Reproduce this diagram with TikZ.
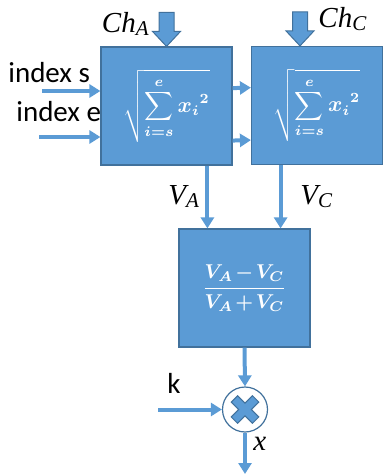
\documentclass[tikz,border=0pt]{standalone}
\usepackage{fontspec}
\setmainfont{Carlito}
\newfontfamily\tnr{Liberation Serif}
\usepackage{bm}
\usetikzlibrary{positioning,arrows.meta,calc}
\definecolor{boxblue}{RGB}{91,155,213}
\definecolor{edgeblue}{RGB}{65,113,156}

\begin{document}
\begin{tikzpicture}[x=0.5pt,y=-0.5pt,
  blockbox/.style={draw=edgeblue,fill=boxblue,line width=0.6pt,minimum width=65.5pt,minimum height=59pt,text=white,inner sep=0pt},
  sig/.style={draw=boxblue,line width=2pt,-{Triangle[width=6.5pt,length=5.5pt]}},
  lbl/.style={font=\fontsize{14.5}{16}\selectfont,inner sep=0pt},
  varlbl/.style={font=\fontsize{14.5}{16}\selectfont\tnr\itshape,inner sep=0pt},
  chan/.style={fill=boxblue,draw=edgeblue,line width=0.5pt}]
\useasboundingbox (0,0) rectangle (382,474);
% Blocks
\node[blockbox] (normA) at (166.5,106) {\fontsize{10.5}{12}\selectfont$\displaystyle\bm{\sqrt{\sum_{i=s}^{e} {x_i}^{2}}}$};
\node[blockbox] (normC) at (317,105.5) {\fontsize{10.5}{12}\selectfont$\displaystyle\bm{\sqrt{\sum_{i=s}^{e} {x_i}^{2}}}$};
\node[blockbox] (ratio) at (244.5,288) {\fontsize{10}{12}\selectfont\medmuskip=2mu$\displaystyle\bm{\frac{V_A-V_C}{V_A+V_C}}$};
\node[circle,draw=edgeblue,fill=white,line width=0.6pt,minimum size=22.5pt,inner sep=0pt] (mult) at (245,409.5) {};
\begin{scope}[shift={(mult.center)},rotate=45]
\filldraw[chan] (-15,-4.5) -- (-4.5,-4.5) -- (-4.5,-15) -- (4.5,-15) -- (4.5,-4.5) -- (15,-4.5)
  -- (15,4.5) -- (4.5,4.5) -- (4.5,15) -- (-4.5,15) -- (-4.5,4.5) -- (-15,4.5) -- cycle;
\end{scope}
% Channel arrows
\coordinate (chA) at (normA.north);
\coordinate (chC) at ([xshift=-8.5pt]normC.north);
\foreach \c in {chA,chC}
  \filldraw[chan] (\c) ++(-7.5,-34) -- ++(15,0) -- ++(0,19) -- ++(6.5,0) -- (\c) -- ++(-14,-15) -- ++(6.5,0) -- cycle;
\node[varlbl,anchor=base east] (chALbl) at (149,33) {Ch\raisebox{-1.5pt}{\fontsize{10.5}{10}\selectfont A}};
\node[varlbl,anchor=base west] (chCLbl) at (318,28) {Ch\raisebox{-1.5pt}{\fontsize{10.5}{10}\selectfont C}};
% Index inputs
\coordinate (sIn) at (42,91);
\coordinate (eIn) at (39,137);
\draw[sig] (sIn) -- (sIn -| normA.west);
\draw[sig] (eIn) -- (eIn -| normA.west);
\node[lbl,anchor=base west] (sLbl) at (8,83) {index s};
\node[lbl,anchor=base west] (eLbl) at (16,122) {index e};
% Links between the norm blocks
\draw[sig] ($(normA.north east)!0.35!(normA.south east)$) -- ($(normC.north west)!0.35!(normC.south west)$);
\draw[sig] ($(normA.north east)!0.79!(normA.south east)$) -- ($(normC.north west)!0.79!(normC.south west)$);
% Norm outputs
\coordinate (vaIn) at ([xshift=14.5pt]ratio.north west);
\coordinate (vcIn) at ([xshift=-15pt]ratio.north east);
\draw[sig] (normA.south -| vaIn) -- (vaIn);
\draw[sig] (normC.south -| vcIn) -- (vcIn);
\node[varlbl,anchor=base west] (vaLbl) at (168,205) {V\raisebox{-1.5pt}{\fontsize{10.5}{10}\selectfont A}};
\node[varlbl,anchor=base west] (vcLbl) at (300,205) {V\raisebox{-1.5pt}{\fontsize{10.5}{10}\selectfont C}};
% Gain stage
\coordinate (kIn) at (158,409.5);
\coordinate (xOut) at (245,474);
\draw[sig] (ratio.south) -- (mult.north);
\draw[sig] (kIn) -- (mult.west);
\draw[sig] (mult.south) -- (xOut);
\node[lbl,anchor=base west] (kLbl) at (167,393) {k};
\node[varlbl,anchor=base west] (xLbl) at (253,450) {x};
\end{tikzpicture}
\end{document}
